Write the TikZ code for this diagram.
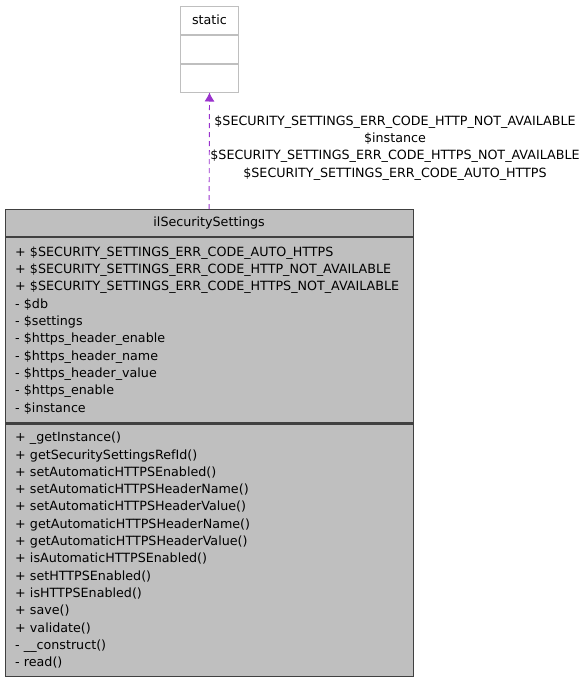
\documentclass[tikz,border=0pt]{standalone}
\usepackage{fontspec}
\setmainfont{DejaVu Sans}
\usetikzlibrary{positioning, arrows.meta}
\definecolor{boxgray}{HTML}{BFBFBF}
\definecolor{boxline}{HTML}{404040}
\definecolor{deplink}{HTML}{9A32CD}
\tikzset{
  umltext/.style={font=\fontsize{12.7}{17.3}\selectfont, text=black},
  classpart/.style={umltext, draw=boxline, line width=1.2pt, fill=boxgray,
                    rectangle, minimum width=408pt, inner xsep=10pt, inner ysep=0pt},
  statpart/.style={umltext, draw=boxgray, line width=1pt, fill=white,
                   rectangle, minimum width=58pt, minimum height=28pt, inner sep=0pt},
  usage/.style={deplink, line width=0.9pt, dash pattern=on 5pt off 4pt, -{Latex[length=9pt,width=10pt]}}
}
\begin{document}
\begin{tikzpicture}[x=1pt, y=-1pt]
  \useasboundingbox (0,0) rectangle (587,680);

  % -- Classe "static" en haut --
  \node[statpart, anchor=north west] (statname) at (180,5.5) {static};
  \node[statpart, anchor=north] (statattrs) at (statname.south) {};
  \node[statpart, anchor=north] (statops) at (statattrs.south) {};

  % -- Classe ilSecuritySettings --
  \node[classpart, minimum height=27pt, anchor=north west] (clsname) at (4.5,209) {ilSecuritySettings};

  % Attributs
  \node[classpart, text width=388pt, align=left, minimum height=185pt, anchor=north] (clsattrs) at (clsname.south) {%
    + \$SECURITY\_SETTINGS\_ERR\_CODE\_AUTO\_HTTPS\\
    + \$SECURITY\_SETTINGS\_ERR\_CODE\_HTTP\_NOT\_AVAILABLE\\
    + \$SECURITY\_SETTINGS\_ERR\_CODE\_HTTPS\_NOT\_AVAILABLE\\
    - \$db\\
    - \$settings\\
    - \$https\_header\_enable\\
    - \$https\_header\_name\\
    - \$https\_header\_value\\
    - \$https\_enable\\
    - \$instance};

  % Methodes
  \node[classpart, text width=388pt, align=left, minimum height=252.5pt, anchor=north] (clsops) at (clsattrs.south) {%
    + \_getInstance()\\
    + getSecuritySettingsRefId()\\
    + setAutomaticHTTPSEnabled()\\
    + setAutomaticHTTPSHeaderName()\\
    + setAutomaticHTTPSHeaderValue()\\
    + getAutomaticHTTPSHeaderName()\\
    + getAutomaticHTTPSHeaderValue()\\
    + isAutomaticHTTPSEnabled()\\
    + setHTTPSEnabled()\\
    + isHTTPSEnabled()\\
    + save()\\
    + validate()\\
    - \_\_construct()\\
    - read()};

  % -- Lien d'utilisation --
  \draw[usage] (clsname.north) -- (statops.south);
  \node[umltext, align=center] (uselabel) at (395,148) {%
    \$SECURITY\_SETTINGS\_ERR\_CODE\_HTTP\_NOT\_AVAILABLE\\
    \$instance\\
    \$SECURITY\_SETTINGS\_ERR\_CODE\_HTTPS\_NOT\_AVAILABLE\\
    \$SECURITY\_SETTINGS\_ERR\_CODE\_AUTO\_HTTPS};
\end{tikzpicture}
\end{document}
